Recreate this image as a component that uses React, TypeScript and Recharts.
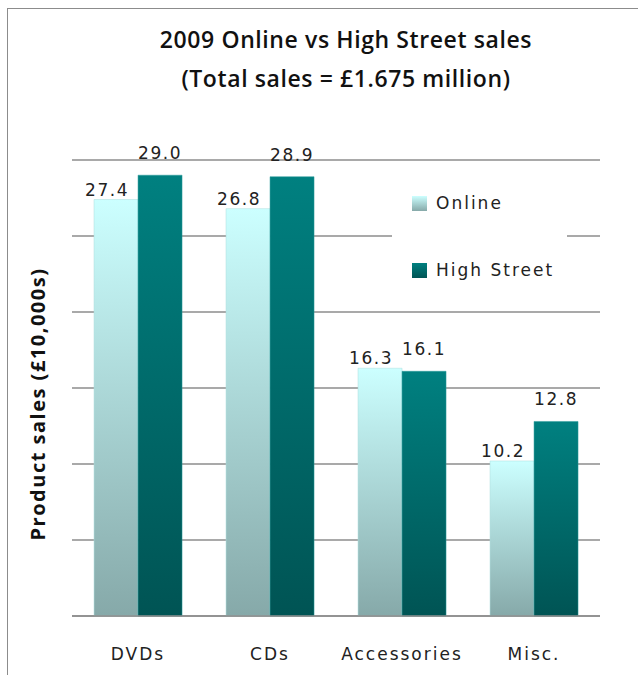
import React from 'react';
import { BarChart, CartesianGrid, XAxis, YAxis, Bar, LabelList } from 'recharts';

const categories = ['DVDs', 'CDs', 'Accessories', 'Misc.'];
const online = [27.4, 26.8, 16.3, 10.2];
const highStreet = [29.0, 28.9, 16.1, 12.8];
const yTicks = [0, 5, 10, 15, 20, 25, 30];

const data = categories.map((name, i) => ({
  name,
  online: online[i],
  highStreet: highStreet[i],
}));

const labelFont = 'DejaVu Sans, sans-serif';
const fmt = (v: any) => Number(v).toFixed(1);

const swatch = (bg: string) => ({
  width: 15,
  height: 15,
  marginLeft: 20,
  marginRight: 9,
  background: bg,
});

const LegendBox = () => (
  <div
    style={{
      position: 'absolute',
      left: 392,
      top: 168,
      width: 175,
      height: 138,
      background: '#fff',
      fontFamily: labelFont,
      fontSize: 17,
      letterSpacing: 2,
      color: '#222',
    }}
  >
    <div style={{ display: 'flex', alignItems: 'center', height: 30, marginTop: 20 }}>
      <span style={swatch('linear-gradient(#ccffff, #86a9a9)')} />
      Online
    </div>
    <div style={{ display: 'flex', alignItems: 'center', height: 30, marginTop: 37 }}>
      <span style={swatch('linear-gradient(#008080, #005555)')} />
      High Street
    </div>
  </div>
);

export default function App() {
  return (
    <div style={{ position: 'absolute', left: 0, top: 0, width: 638, height: 675, background: '#fff', overflow: 'hidden' }}>
      <div
        style={{
          position: 'absolute',
          left: 7,
          top: 8,
          right: -2,
          bottom: -2,
          borderTop: '1.5px solid #8c8c8c',
          borderLeft: '1.5px solid #8c8c8c',
        }}
      />
      <BarChart
        width={638}
        height={675}
        data={data}
        margin={{ top: 160, right: 38, bottom: 29, left: 72 }}
        barCategoryGap="16.7%"
        barGap={0}
      >
        <defs>
          <linearGradient id="gOnline" x1="0" y1="0" x2="0" y2="1">
            <stop offset="0%" stopColor="#ccffff" />
            <stop offset="100%" stopColor="#86a9a9" />
          </linearGradient>
          <linearGradient id="gHigh" x1="0" y1="0" x2="0" y2="1">
            <stop offset="0%" stopColor="#008080" />
            <stop offset="100%" stopColor="#005454" />
          </linearGradient>
        </defs>
        <CartesianGrid vertical={false} stroke="#8c8c8c" strokeWidth={1.5} />
        <XAxis
          dataKey="name"
          height={30}
          interval={0}
          axisLine={{ stroke: '#8c8c8c', strokeWidth: 1.5 }}
          tickLine={false}
          tick={{ fontFamily: labelFont, fontSize: 17, fill: '#222', letterSpacing: 2 }}
          tickMargin={26}
        />
        <YAxis
          width={0}
          domain={[0, 30]}
          ticks={yTicks}
          interval={0}
          tick={{ fill: 'transparent', fontSize: 1 }}
          axisLine={false}
          tickLine={false}
        />
        <Bar dataKey="online" name="Online" fill="url(#gOnline)" stroke="#aadddd" strokeWidth={0.5} isAnimationActive={false}>
          <LabelList
            dataKey="online"
            position="top"
            offset={4}
            dx={-9}
            formatter={fmt}
            style={{ fontFamily: labelFont, fontSize: 17, fill: '#222', letterSpacing: 1.5 }}
          />
        </Bar>
        <Bar dataKey="highStreet" name="High Street" fill="url(#gHigh)" stroke="#2a9a9a" strokeWidth={0.5} isAnimationActive={false}>
          <LabelList
            dataKey="highStreet"
            position="top"
            offset={16}
            formatter={fmt}
            style={{ fontFamily: labelFont, fontSize: 17, fill: '#222', letterSpacing: 1.5 }}
          />
        </Bar>
      </BarChart>
      <LegendBox />
      <div
        style={{
          position: 'absolute',
          left: 0,
          width: 692,
          top: 20,
          textAlign: 'center',
          fontFamily: 'Open Sans, sans-serif',
          fontWeight: 600,
          fontSize: 23,
          letterSpacing: 0.6,
          lineHeight: '39px',
          color: '#111',
        }}
      >
        <div>2009 Online vs High Street sales</div>
        <div>(Total sales = £1.675 million)</div>
      </div>
      <div style={{ position: 'absolute', left: 37, top: 404, width: 0, height: 0 }}>
        <div
          style={{
            position: 'absolute',
            transform: 'translate(-50%, -50%) rotate(-90deg)',
            whiteSpace: 'nowrap',
            fontFamily: 'Open Sans, sans-serif',
            fontWeight: 700,
            fontSize: 20,
            letterSpacing: 1.5,
            color: '#111',
          }}
        >
          Product sales (£10,000s)
        </div>
      </div>
    </div>
  );
}
